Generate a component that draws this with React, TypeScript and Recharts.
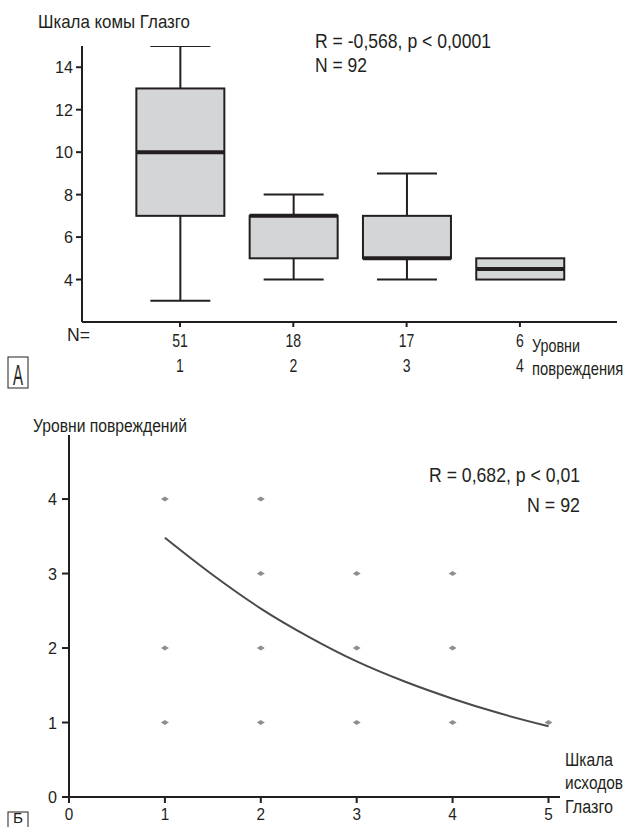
import React from 'react';
import { ComposedChart, Bar, XAxis, YAxis, Scatter, Line } from 'recharts';

const FONT = "'Liberation Sans', Arial, sans-serif";
const INK = '#231f20';
const BOX_FILL = '#d4d5d7';
const DOT = '#8e8e8e';

// Panel A: Glasgow coma scale by injury level
const levels = [1, 2, 3, 4];
const counts = [51, 18, 17, 6];
const mins = [3, 4, 4, 4];
const q1s = [7, 5, 5, 4];
const medians = [10, 7, 5, 4.5];
const q3s = [13, 7, 7, 5];
const maxs = [15, 8, 9, 5];
const gcsTicks = [4, 6, 8, 10, 12, 14];

// Panel B: injury level vs Glasgow outcome scale
const outcomeX = [1, 2, 2, 3, 4, 1, 2, 3, 4, 1, 2, 3, 4, 5];
const outcomeY = [4, 4, 3, 3, 3, 2, 2, 2, 2, 1, 1, 1, 1, 1];
const fitX = [1, 1.5, 2, 2.5, 3, 3.5, 4, 4.5, 5];
const fitY = [3.48, 2.98, 2.53, 2.15, 1.82, 1.55, 1.32, 1.12, 0.95];
const levelTicks = [0, 1, 2, 3, 4];
const outcomeTicks = [0, 1, 2, 3, 4, 5];

const boxData = levels.map((level, i) => ({
  level,
  count: counts[i],
  min: mins[i],
  q1: q1s[i],
  median: medians[i],
  q3: q3s[i],
  max: maxs[i],
}));

const pointData = outcomeX.map((x, i) => ({ x, y: outcomeY[i] }));
const fitData = fitX.map((x, i) => ({ x, y: fitY[i] }));

// Bar covers [min, max]; inner values placed linearly inside that span
const BoxShape = (props: any) => {
  const { x, y, width, height, payload } = props;
  const { min, max, q1, median, q3 } = payload;
  const top = Math.min(y, y + height);
  const bottom = Math.max(y, y + height);
  const toY = (v: number) => top + ((max - v) / (max - min)) * (bottom - top);
  const cx = x + width / 2;
  const cap = 30;
  return (
    <g>
      {max > q3 && (
        <>
          <line x1={cx} x2={cx} y1={toY(max)} y2={toY(q3)} stroke={INK} strokeWidth={2} />
          <line x1={cx - cap} x2={cx + cap} y1={toY(max)} y2={toY(max)} stroke={INK} strokeWidth={2} />
        </>
      )}
      {min < q1 && (
        <>
          <line x1={cx} x2={cx} y1={toY(q1)} y2={toY(min)} stroke={INK} strokeWidth={2} />
          <line x1={cx - cap} x2={cx + cap} y1={toY(min)} y2={toY(min)} stroke={INK} strokeWidth={2} />
        </>
      )}
      <rect
        x={x}
        y={toY(q3)}
        width={width}
        height={toY(q1) - toY(q3)}
        fill={BOX_FILL}
        stroke={INK}
        strokeWidth={2}
      />
      <line x1={x} x2={x + width} y1={toY(median)} y2={toY(median)} stroke={INK} strokeWidth={4} />
    </g>
  );
};

// narrow text: squeeze horizontally around its anchor
const Narrow = ({ x, y, sx = 0.8, size = 17, anchor = 'middle', children }: any) => (
  <text
    transform={`translate(${x},${y}) scale(${sx},1)`}
    textAnchor={anchor}
    fontSize={size}
    fontFamily={FONT}
    fill={INK}
  >
    {children}
  </text>
);

// fixed-width annotation text
const Fit = ({ x, y, w, size, anchor = 'start', children }: any) => (
  <text
    x={x}
    y={y}
    fontSize={size}
    textLength={w}
    lengthAdjust="spacingAndGlyphs"
    textAnchor={anchor}
    fontFamily={FONT}
    fill={INK}
  >
    {children}
  </text>
);

const LevelTick = ({ x, y, payload }: any) => {
  const i = levels.indexOf(payload.value);
  return (
    <g>
      <Narrow x={x} y={y + 18} sx={0.78} size={18}>
        {counts[i]}
      </Narrow>
      <Narrow x={x} y={y + 43} sx={0.78} size={18}>
        {payload.value}
      </Narrow>
    </g>
  );
};

const YTick = ({ x, y, payload }: any) => (
  <Narrow x={x} y={y + 6} sx={0.95} size={17} anchor="end">
    {payload.value}
  </Narrow>
);

const XTick = ({ x, y, payload }: any) => (
  <Narrow x={x} y={y + 15} sx={0.9} size={17}>
    {payload.value}
  </Narrow>
);

const Diamond = (props: any) => {
  const { cx, cy } = props;
  return (
    <polygon
      points={`${cx - 4},${cy} ${cx},${cy - 2.5} ${cx + 4},${cy} ${cx},${cy + 2.5}`}
      fill={DOT}
    />
  );
};

export default function App() {
  return (
    <div style={{ position: 'fixed', left: 0, top: 0, width: 627, height: 827, background: '#fff', overflow: 'hidden' }}>
      {/* Panel A */}
      <div style={{ position: 'absolute', left: 0, top: 0 }}>
        <ComposedChart
          width={627}
          height={390}
          data={boxData}
          margin={{ top: 46, right: 10, bottom: 38, left: 0 }}
        >
          <XAxis
            type="number"
            dataKey="level"
            domain={[0.135, 4.857]}
            ticks={levels}
            axisLine={{ stroke: INK, strokeWidth: 2 }}
            tickLine={{ stroke: INK, strokeWidth: 2 }}
            tickSize={5}
            tickMargin={2}
            tick={<LevelTick />}
            interval={0}
          />
          <YAxis
            type="number"
            domain={[2, 15]}
            ticks={gcsTicks}
            width={82}
            axisLine={{ stroke: INK, strokeWidth: 2 }}
            tickLine={{ stroke: INK, strokeWidth: 2 }}
            tickSize={6}
            tickMargin={3}
            tick={<YTick />}
            interval={0}
            allowDataOverflow
          />
          <Bar
            dataKey={(d: any) => [d.min, d.max]}
            barSize={88}
            shape={<BoxShape />}
            isAnimationActive={false}
          />
        </ComposedChart>
      </div>

      {/* Panel B */}
      <div style={{ position: 'absolute', left: 0, top: 400 }}>
        <ComposedChart
          width={627}
          height={427}
          margin={{ top: 35, right: 67, bottom: 0, left: 0 }}
        >
          <XAxis
            type="number"
            dataKey="x"
            domain={[0, 5.12]}
            ticks={outcomeTicks}
            axisLine={{ stroke: INK, strokeWidth: 2 }}
            tickLine={{ stroke: INK, strokeWidth: 2 }}
            tickSize={6}
            tickMargin={2}
            tick={<XTick />}
            interval={0}
          />
          <YAxis
            type="number"
            dataKey="y"
            domain={[0, 4.86]}
            ticks={levelTicks}
            width={69}
            axisLine={{ stroke: INK, strokeWidth: 2 }}
            tickLine={{ stroke: INK, strokeWidth: 2 }}
            tickSize={7}
            tickMargin={5}
            tick={<YTick />}
            interval={0}
          />
          <Scatter data={pointData} dataKey="y" shape={<Diamond />} isAnimationActive={false} />
          <Line
            data={fitData}
            dataKey="y"
            type="monotone"
            stroke="#4a4a4a"
            strokeWidth={2}
            dot={false}
            isAnimationActive={false}
          />
        </ComposedChart>
      </div>

      {/* annotations */}
      <svg
        width={627}
        height={827}
        style={{ position: 'absolute', left: 0, top: 0, pointerEvents: 'none' }}
      >
        <Fit x={38} y={28} w={152} size={18.5}>Шкала комы Глазго</Fit>
        <Fit x={315} y={48} w={176} size={20}>R = -0,568, p &lt; 0,0001</Fit>
        <Fit x={315} y={72} w={52} size={20}>N = 92</Fit>
        <Fit x={67} y={341} w={23} size={18}>N=</Fit>
        <Fit x={532} y={352} w={48} size={18}>Уровни</Fit>
        <Narrow x={532} y={375} sx={0.82} size={18} anchor="start">повреждения</Narrow>
        <rect x={8} y={357} width={20} height={31} fill="none" stroke={INK} strokeWidth={1} />
        <Fit x={13} y={385} w={10} size={29}>A</Fit>

        <Fit x={33} y={432} w={154} size={17.5}>Уровни повреждений</Fit>
        <Fit x={580} y={482} w={151} size={20} anchor="end">R = 0,682, p &lt; 0,01</Fit>
        <Fit x={580} y={512} w={53} size={20} anchor="end">N = 92</Fit>
        <Fit x={565} y={766} w={48} size={18}>Шкала</Fit>
        <Narrow x={565} y={789} sx={0.86} size={18} anchor="start">исходов</Narrow>
        <Fit x={565} y={813} w={48} size={18}>Глазго</Fit>
        <rect x={8} y={812} width={20} height={31} fill="none" stroke={INK} strokeWidth={1} />
        <Fit x={13} y={823} w={10} size={14}>Б</Fit>
      </svg>
    </div>
  );
}
